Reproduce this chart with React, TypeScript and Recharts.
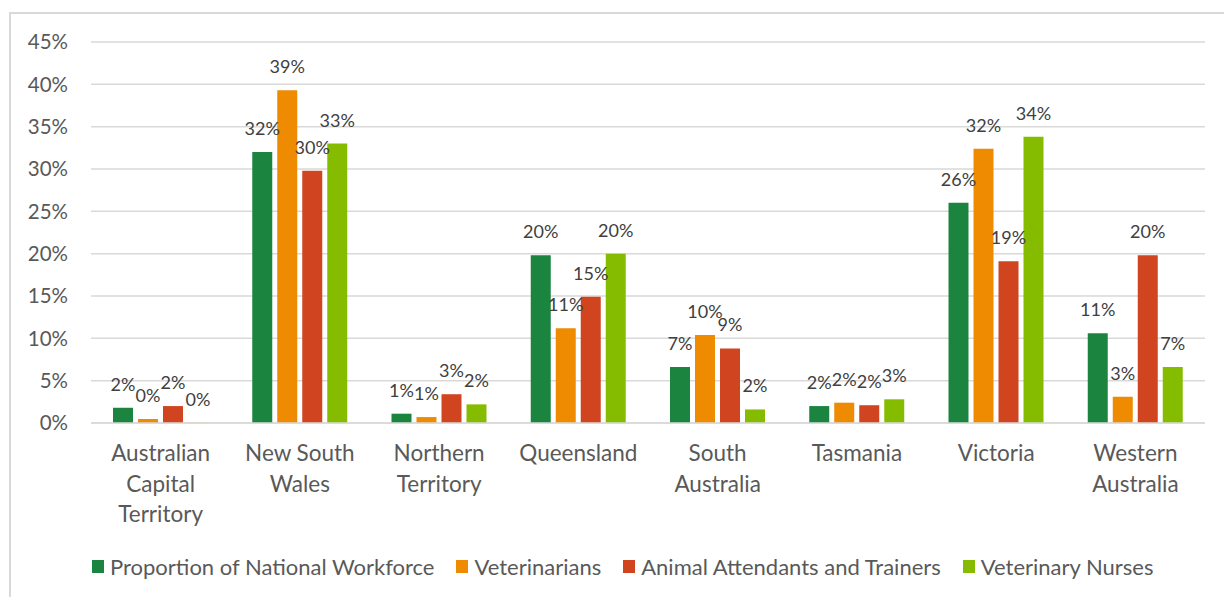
import React from "react";
import { BarChart, Bar, XAxis, YAxis, CartesianGrid, Legend, LabelList } from "recharts";

const states = [
  "Australian\nCapital\nTerritory",
  "New South\nWales",
  "Northern\nTerritory",
  "Queensland",
  "South\nAustralia",
  "Tasmania",
  "Victoria",
  "Western\nAustralia",
];
const nationalWorkforce = [1.8, 32.0, 1.1, 19.8, 6.6, 2.0, 26.0, 10.6];
const veterinarians = [0.47, 39.3, 0.7, 11.2, 10.4, 2.4, 32.4, 3.1];
const animalAttendants = [2.0, 29.8, 3.4, 14.9, 8.8, 2.1, 19.1, 19.8];
const vetNurses = [0.02, 33.0, 2.2, 20.0, 1.6, 2.8, 33.8, 6.6];
const yTicks = [0, 5, 10, 15, 20, 25, 30, 35, 40, 45];

const series = [
  { key: "workforce", name: "Proportion of National Workforce", color: "#1b8540" },
  { key: "vets", name: "Veterinarians", color: "#ee8b00" },
  { key: "attendants", name: "Animal Attendants and Trainers", color: "#d0451f" },
  { key: "nurses", name: "Veterinary Nurses", color: "#86bc00" },
];

const data = states.map((state, i) => ({
  state,
  workforce: nationalWorkforce[i],
  vets: veterinarians[i],
  attendants: animalAttendants[i],
  nurses: vetNurses[i],
}));

const FONT = "Lato, 'Open Sans', sans-serif";
const AXIS_TEXT = "#595959";

function StateTick({ x, y, payload }: any) {
  const lines = String(payload.value).split("\n");
  return (
    <text x={x} y={y} textAnchor="middle" fill={AXIS_TEXT} fontSize={22.5} fontFamily={FONT}>
      {lines.map((line, i) => (
        <tspan key={i} x={x} dy={i === 0 ? 38 : 30.5}>
          {line}
        </tspan>
      ))}
    </text>
  );
}

function LegendContent() {
  return (
    <div
      style={{
        display: "flex",
        justifyContent: "flex-start",
        alignItems: "center",
        height: 30,
        paddingLeft: 92,
        fontFamily: FONT,
        fontSize: 22,
        color: AXIS_TEXT,
        whiteSpace: "nowrap",
      }}
    >
      {series.map((s) => (
        <span key={s.key} style={{ display: "flex", alignItems: "center", marginRight: 22 }}>
          <span style={{ width: 12, height: 13, background: s.color, marginRight: 6, display: "inline-block" }} />
          {s.name}
        </span>
      ))}
    </div>
  );
}

export default function App() {
  return (
    <div style={{ position: "fixed", left: 0, top: 0, width: 1224, height: 597, overflow: "hidden", background: "#fff" }}>
      <div
        style={{
          position: "absolute",
          left: 9,
          top: 12,
          width: 1400,
          height: 800,
          border: "2px solid #d9d9d9",
        }}
      />
      <div style={{ position: "absolute", left: 0, top: 0 }}>
        <BarChart
          width={1224}
          height={597}
          data={data}
          margin={{ top: 42, right: 19, bottom: 16, left: 0 }}
          barSize={20}
          barGap={5}
        >
          <CartesianGrid vertical={false} stroke="#d9d9d9" strokeWidth={1.5} />
          <XAxis
            dataKey="state"
            interval={0}
            height={128}
            tickSize={0}
            tickMargin={0}
            axisLine={{ stroke: "#d9d9d9", strokeWidth: 1.5 }}
            tickLine={false}
            tick={<StateTick />}
          />
          <YAxis
            width={91}
            domain={[0, 45]}
            ticks={yTicks}
            interval={0}
            axisLine={false}
            tickLine={false}
            tickSize={0}
            tickMargin={23}
            tickFormatter={(v: number) => `${v}%`}
            tick={{ fill: AXIS_TEXT, fontSize: 20.5, fontFamily: FONT }}
          />
          <Legend verticalAlign="bottom" align="left" content={<LegendContent />} />
          {series.map((s) => (
            <Bar key={s.key} dataKey={s.key} name={s.name} fill={s.color} isAnimationActive={false}>
              <LabelList
                dataKey={s.key}
                position="top"
                offset={17}
                formatter={(v: any) => `${Math.round(Number(v))}%`}
                fill="#404040"
                fontSize={18}
                fontFamily={FONT}
              />
            </Bar>
          ))}
        </BarChart>
      </div>
    </div>
  );
}
